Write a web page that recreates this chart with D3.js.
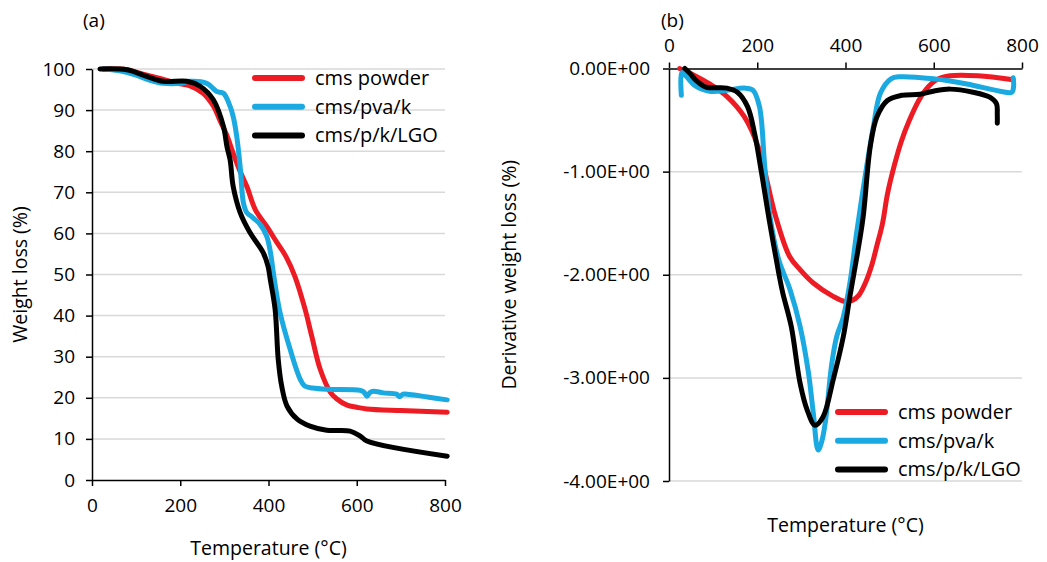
<!DOCTYPE html>
<html>
<head>
<meta charset="utf-8">
<script src="https://cdn.jsdelivr.net/npm/d3@7"></script>
<style>
body { margin: 0; background: #fff; }
text { font-family: "Open Sans", sans-serif; fill: #000; }
</style>
</head>
<body>
<div id="chart"></div>
<script>
// Data
const seriesNames = ['cms powder', 'cms/pva/k', 'cms/p/k/LGO']
const tempTicks = [0, 200, 400, 600, 800]
const weightTicks = [0, 10, 20, 30, 40, 50, 60, 70, 80, 90, 100]
const derivTicks = [0, -1, -2, -3, -4]

// (a) TGA: [temperature, weight %]
const tgaPowder = [[25,100],[60,100],[80,99.8],[120,98.6],[160,97.5],[200,96.4],[222,95.9],[252,94.1],[275,91],[290,87.5],[305,84],[320,79.5],[336,75],[351,71.4],[370,65.8],[396,61.7],[419,57.8],[440,54.3],[460,49.5],[483,41.5],[498,35],[517,27],[540,21.4],[555,19.7],[578,18.2],[600,17.7],[623,17.3],[700,16.9],[805,16.5]]
const tgaPva = [[25,100],[60,99.6],[100,98.5],[130,97.3],[162,96.5],[200,96.5],[222,97],[260,96.5],[275,95.2],[283,94.5],[298,94.1],[313,90.9],[320,88.4],[328,83.6],[336,76],[343,67.5],[350,65.2],[365,63.8],[381,62.2],[396,59.3],[405,55],[411,50.4],[426,40.8],[449,31.8],[472,24.5],[483,22.8],[500,22.4],[532,22.1],[608,21.8],[616,21.4],[623,20.4],[630,21.3],[638,21.6],[660,21.2],[690,20.9],[697,20.3],[705,20.9],[720,20.8],[760,20.2],[805,19.5]]
const tgaLgo = [[18,100],[79,99.8],[124,98.2],[162,97],[215,97],[245,95.8],[275,92.5],[298,86],[306,81],[313,77.9],[320,71.4],[336,65],[358,60.2],[388,55.3],[399,52],[404,48.8],[415,41.5],[422,29.4],[430,22.8],[442,18],[465,14.8],[494,13.1],[532,12.1],[585,11.9],[608,10.7],[623,9.5],[805,5.8]]

// (b) DTG: [temperature, derivative weight loss]
const dtgPowder = [[24,0],[50,-0.05],[92,-0.15],[131,-0.27],[171,-0.47],[202,-0.76],[242,-1.44],[273,-1.82],[297,-1.95],[327,-2.08],[372,-2.21],[399,-2.26],[415,-2.25],[430,-2.2],[445,-2.08],[460,-1.9],[471,-1.72],[484,-1.5],[495,-1.22],[510,-0.95],[527,-0.7],[545,-0.5],[566,-0.31],[585,-0.19],[606,-0.11],[637,-0.07],[700,-0.07],[780,-0.11]]
const dtgPva = [[28,-0.26],[29,-0.04],[40,-0.08],[60,-0.17],[92,-0.22],[131,-0.21],[171,-0.19],[190,-0.21],[205,-0.37],[217,-0.95],[229,-1.44],[249,-1.86],[274,-2.14],[297,-2.5],[316,-2.95],[327,-3.34],[338,-3.7],[346,-3.62],[354,-3.44],[369,-2.86],[380,-2.6],[395,-2.41],[410,-2.08],[426,-1.57],[448,-0.95],[463,-0.57],[479,-0.24],[503,-0.1],[524,-0.08],[599,-0.1],[675,-0.15],[750,-0.22],[777,-0.23],[781,-0.17],[780,-0.09]]
const dtgLgo = [[36,0],[48,-0.05],[60,-0.11],[84,-0.18],[131,-0.19],[155,-0.23],[178,-0.37],[194,-0.63],[210,-1.02],[226,-1.44],[249,-1.99],[258,-2.18],[277,-2.5],[297,-3.05],[313,-3.31],[331,-3.46],[349,-3.38],[372,-3.02],[395,-2.6],[410,-2.21],[426,-1.82],[440,-1.44],[456,-0.76],[471,-0.47],[495,-0.31],[527,-0.26],[569,-0.25],[599,-0.22],[637,-0.2],[689,-0.23],[728,-0.28],[742,-0.34],[744,-0.45],[744,-0.53]]

const colors = ['#ed1c24', '#1ba9e1', '#000000']

let dimensions = {
    width: 1047,
    height: 562,
    a: { left: 92, right: 445, top: 69, bottom: 480 },
    b: { left: 669, right: 1022, top: 68.5, bottom: 481 }
}

const svg = d3.select('#chart')
    .append('svg')
    .attr('width', dimensions.width)
    .attr('height', dimensions.height)

function styleAxis(g) {
    g.select('.domain').attr('stroke', '#000').attr('stroke-width', 1.5)
    g.selectAll('.tick line').attr('stroke', '#000').attr('stroke-width', 1.5)
    g.selectAll('.tick text').attr('font-size', '19px').attr('font-family', '"Open Sans", sans-serif')
}

function drawLines(xScale, yScale, allData) {
    const line = d3.line()
        .x(d => xScale(d[0]))
        .y(d => yScale(d[1]))
        .curve(d3.curveCatmullRom.alpha(0.5))

    svg.append('g')
        .selectAll('path')
        .data(allData)
        .join('path')
        .attr('d', d => line(d))
        .attr('fill', 'none')
        .attr('stroke', (d, i) => colors[i])
        .attr('stroke-width', 5)
        .attr('stroke-linecap', 'round')
        .attr('stroke-linejoin', 'round')
}

function drawLegend(x, y, gap) {
    const legend = svg.append('g')
        .attr('transform', `translate(${x},${y})`)

    const items = legend.selectAll('g')
        .data(seriesNames)
        .join('g')
        .attr('transform', (d, i) => `translate(0,${i * gap})`)

    items.append('line')
        .attr('x1', 0)
        .attr('x2', 47)
        .attr('stroke', (d, i) => colors[i])
        .attr('stroke-width', 6)
        .attr('stroke-linecap', 'round')

    items.append('text')
        .attr('x', 60)
        .attr('dy', '0.35em')
        .attr('font-size', '20px')
        .text(d => d)
}

// ---------- (a) Weight loss ----------
const pa = dimensions.a
const xA = d3.scaleLinear().domain([0, 800]).range([pa.left, pa.right])
const yA = d3.scaleLinear().domain([0, 100]).range([pa.bottom, pa.top])

svg.append('g')
    .selectAll('line')
    .data(weightTicks.filter(d => d > 0))
    .join('line')
    .attr('x1', pa.left)
    .attr('x2', pa.right)
    .attr('y1', d => yA(d))
    .attr('y2', d => yA(d))
    .attr('stroke', '#d9d9d9')
    .attr('stroke-width', 1.5)

svg.append('g')
    .attr('transform', `translate(0,${pa.bottom})`)
    .call(d3.axisBottom(xA).tickValues(tempTicks).tickSize(6).tickSizeOuter(0).tickPadding(13))
    .call(styleAxis)

svg.append('g')
    .attr('transform', `translate(${pa.left},0)`)
    .call(d3.axisLeft(yA).tickValues(weightTicks).tickSize(6).tickSizeOuter(0).tickPadding(11))
    .call(styleAxis)

drawLines(xA, yA, [tgaPowder, tgaPva, tgaLgo])
drawLegend(255, 78, 28.7)

svg.append('text')
    .attr('x', 83)
    .attr('y', 27)
    .attr('font-size', '19px')
    .text('(a)')

svg.append('text')
    .attr('x', (pa.left + pa.right) / 2)
    .attr('y', 555)
    .attr('text-anchor', 'middle')
    .attr('font-size', '19.5px')
    .text('Temperature (°C)')

svg.append('text')
    .attr('transform', `translate(27,${(pa.top + pa.bottom) / 2}) rotate(-90)`)
    .attr('text-anchor', 'middle')
    .attr('font-size', '19.5px')
    .text('Weight loss (%)')

// ---------- (b) Derivative weight loss ----------
const pb = dimensions.b
const xB = d3.scaleLinear().domain([0, 800]).range([pb.left, pb.right])
const yB = d3.scaleLinear().domain([0, -4]).range([pb.top, pb.bottom])

svg.append('g')
    .selectAll('line')
    .data(derivTicks.filter(d => d < 0))
    .join('line')
    .attr('x1', pb.left)
    .attr('x2', pb.right)
    .attr('y1', d => yB(d))
    .attr('y2', d => yB(d))
    .attr('stroke', '#d9d9d9')
    .attr('stroke-width', 1.5)

svg.append('g')
    .attr('transform', `translate(0,${pb.top})`)
    .call(d3.axisTop(xB).tickValues(tempTicks).tickSize(6).tickSizeOuter(0).tickPadding(11))
    .call(styleAxis)

svg.append('g')
    .attr('transform', `translate(${pb.left},0)`)
    .call(d3.axisLeft(yB).tickValues(derivTicks).tickSize(6).tickSizeOuter(0).tickPadding(13)
        .tickFormat(d => (d < 0 ? '-' : '') + Math.abs(d).toFixed(2) + 'E+00'))
    .call(styleAxis)

drawLines(xB, yB, [dtgPowder, dtgPva, dtgLgo])
drawLegend(838, 412, 28.7)

svg.append('text')
    .attr('x', 661)
    .attr('y', 27)
    .attr('font-size', '19px')
    .text('(b)')

svg.append('text')
    .attr('x', (pb.left + pb.right) / 2)
    .attr('y', 532)
    .attr('text-anchor', 'middle')
    .attr('font-size', '19.5px')
    .text('Temperature (°C)')

svg.append('text')
    .attr('transform', `translate(516,${(pb.top + pb.bottom) / 2}) rotate(-90)`)
    .attr('text-anchor', 'middle')
    .attr('font-size', '19.5px')
    .text('Derivative weight loss (%)')
</script>
</body>
</html>
